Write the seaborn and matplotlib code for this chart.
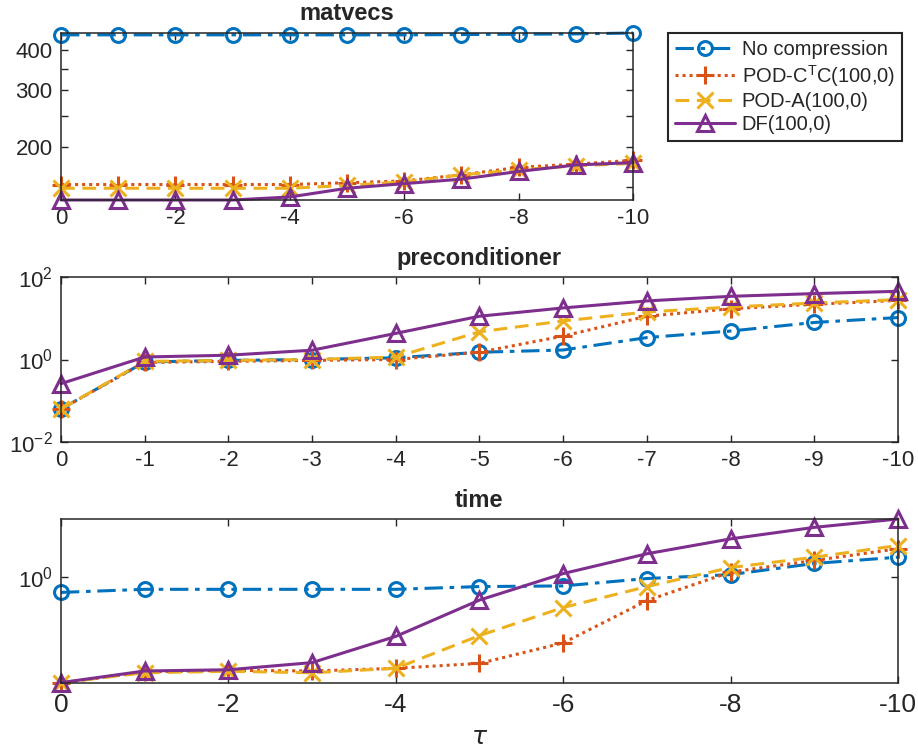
import numpy as np
import pandas as pd
import matplotlib
matplotlib.use("Agg")
import matplotlib.pyplot as plt
import seaborn as sns
from matplotlib.ticker import NullLocator

# ---------------- data ----------------
tau = [0, -1, -2, -3, -4, -5, -6, -7, -8, -9, -10]
series_names = ["No compression", "POD-C$^\\mathregular{T}$C(100,0)", "POD-A(100,0)", "DF(100,0)"]

matvecs_nocomp = [446, 446, 446, 446, 446, 446, 446, 447, 448, 449, 452]
matvecs_podctc = [153, 153, 153, 153, 153, 155, 157, 164, 173, 177, 182]
matvecs_poda   = [149, 149, 149, 149, 149, 152, 156, 164, 170, 175, 178]
matvecs_df     = [137, 137, 137, 137, 140, 149, 154, 159, 168, 176, 179]

precond_nocomp = [0.063, 0.87, 0.95, 1.0, 1.1, 1.5, 1.7, 3.4, 4.9, 7.9, 10.4]
precond_podctc = [0.063, 0.85, 0.9, 0.95, 1.0, 1.5, 3.7, 11.2, 17.0, 21.8, 27.0]
precond_poda   = [0.063, 0.9, 0.95, 1.0, 1.15, 4.7, 8.6, 14.2, 18.7, 23.4, 28.3]
precond_df     = [0.26, 1.15, 1.27, 1.68, 4.3, 11.2, 17.8, 26.3, 34.0, 39.6, 45.0]

time_nocomp = [0.757, 0.80, 0.80, 0.80, 0.80, 0.84, 0.85, 0.97, 1.04, 1.27, 1.42]
time_podctc = [0.150, 0.183, 0.188, 0.186, 0.195, 0.213, 0.307, 0.654, 1.09, 1.34, 1.65]
time_poda   = [0.151, 0.180, 0.185, 0.180, 0.195, 0.350, 0.578, 0.84, 1.18, 1.42, 1.75]
time_df     = [0.151, 0.186, 0.190, 0.216, 0.345, 0.66, 1.06, 1.51, 1.97, 2.42, 2.81]

# ---------------- style ----------------
sns.set_theme(style="ticks")
plt.rcParams["font.family"] = ["Liberation Sans", "DejaVu Sans"]
plt.rcParams["mathtext.default"] = "regular"
plt.rcParams["axes.edgecolor"] = "#262626"
plt.rcParams["xtick.color"] = "#262626"
plt.rcParams["ytick.color"] = "#262626"

colors = ["#0072BD", "#D95319", "#EDB120", "#7E2F8E"]
lstyles = [(0, (6, 2.2, 1.5, 2.2)), (0, (1, 1.3)), (0, (4.5, 2.5)), "-"]
markers = ["o", "+", "x", "^"]
msizes = [10, 13, 11, 11]

W, H = 918, 751
fig = plt.figure(figsize=(W / 100, H / 100), dpi=100)

def ax_at(l, t, r, b):
    return fig.add_axes([l / W, 1 - b / H, (r - l) / W, (b - t) / H])

ax1 = ax_at(61, 33, 633, 200)
ax2 = ax_at(61, 277, 898, 442)
ax3 = ax_at(61, 519, 898, 683)

panels = [
    (ax1, [matvecs_nocomp, matvecs_podctc, matvecs_poda, matvecs_df], "matvecs"),
    (ax2, [precond_nocomp, precond_podctc, precond_poda, precond_df], "preconditioner"),
    (ax3, [time_nocomp, time_podctc, time_poda, time_df], "time"),
]

for ax, vals, title in panels:
    ax.set_yscale("log")
    for i, v in enumerate(vals):
        df = pd.DataFrame({"tau": tau, "value": v})
        sns.lineplot(data=df, x="tau", y="value", ax=ax, color=colors[i],
                     linestyle=lstyles[i], marker=markers[i], markersize=msizes[i],
                     markerfacecolor="none", markeredgecolor=colors[i],
                     markeredgewidth=2.2, linewidth=2.2, label=series_names[i],
                     estimator=None, sort=False, clip_on=False, legend=False)
    ax.set_xlim(0, -10)
    ax.set_xlabel("")
    ax.set_ylabel("")
    ax.set_title(title, fontsize=17, fontweight="bold", pad=9)
    ax.tick_params(direction="in", top=True, right=True, length=5, width=1,
                   labelsize=16, pad=6)
    ax.yaxis.set_minor_locator(NullLocator())
    ax.xaxis.set_minor_locator(NullLocator())
    for s in ax.spines.values():
        s.set_linewidth(1.1)
        s.set_visible(True)

# panel specific axes
allv = matvecs_nocomp + matvecs_podctc + matvecs_poda + matvecs_df
ax1.set_ylim(min(allv), max(allv))
ax1.set_yticks([150, 200, 250, 300, 350, 400], ["", "200", "", "300", "", "400"])
ax1.set_xticks([0, -2, -4, -6, -8, -10], ["0", "-2", "-4", "-6", "-8", "-10"])

ax2.set_ylim(1e-2, 1e2)
ax2.set_yticks([1e-2, 1, 1e2], ["$10^{-2}$", "$10^{0}$", "$10^{2}$"])
ax2.set_xticks(tau, [str(t) for t in tau])

allt = time_nocomp + time_podctc + time_poda + time_df
ax3.set_ylim(min(allt), max(allt))
ax3.set_yticks([1], ["$10^{0}$"])
ax3.set_xticks([0, -2, -4, -6, -8, -10], ["0", "-2", "-4", "-6", "-8", "-10"])
ax3.tick_params(axis="x", labelsize=19, pad=7)
ax3.set_xlabel(r"$\mathit{\tau}$", fontsize=18, labelpad=6)

handles, labels = ax1.get_legend_handles_labels()
leg = fig.legend(handles, labels, loc="upper left", bbox_to_anchor=(668 / W, 1 - 33 / H),
                 fontsize=14.5, handlelength=3.0, numpoints=1, fancybox=False,
                 framealpha=1, edgecolor="#262626", borderpad=0.35, labelspacing=0.18,
                 handletextpad=0.3, borderaxespad=0)
leg.get_frame().set_linewidth(1.5)

fig.savefig("out.png", dpi=100)
